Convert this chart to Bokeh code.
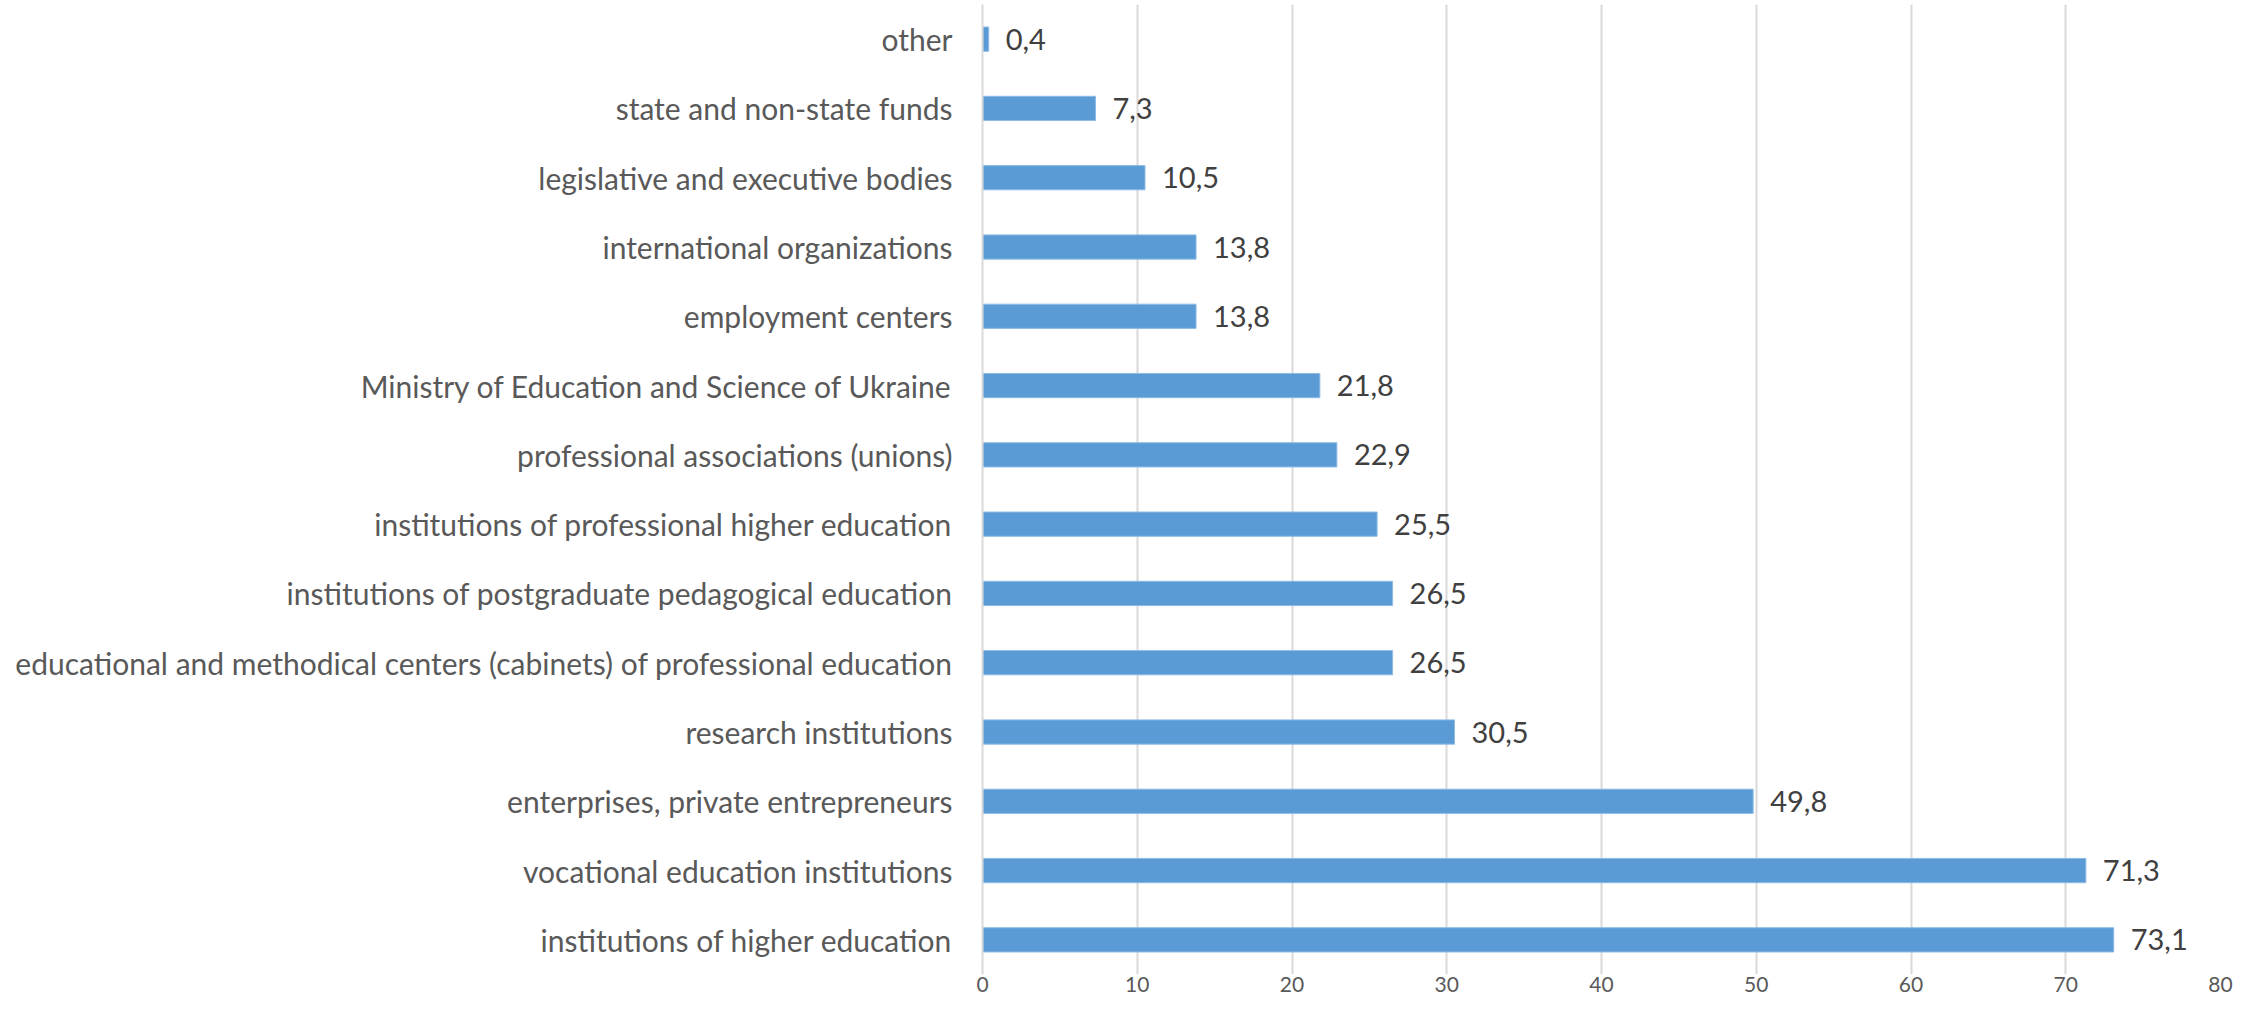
from bokeh.plotting import figure
from bokeh.models import ColumnDataSource, FactorRange, Range1d, FixedTicker
from bokeh.embed import file_html
from bokeh.resources import INLINE
from bokeh.core.properties import value

categories = [
    "other",
    "state and non-state funds",
    "legislative and executive bodies",
    "international organizations",
    "employment centers",
    "Ministry of Education and Science of Ukraine",
    "professional associations (unions)",
    "institutions of professional higher education",
    "institutions of postgraduate pedagogical education",
    "educational and methodical centers (cabinets) of professional education",
    "research institutions",
    "enterprises, private entrepreneurs",
    "vocational education institutions",
    "institutions of higher education",
]
values = [0.4, 7.3, 10.5, 13.8, 13.8, 21.8, 22.9, 25.5, 26.5, 26.5, 30.5, 49.8, 71.3, 73.1]
x_ticks = [0, 10, 20, 30, 40, 50, 60, 70, 80]

labels = [f"{v:.1f}".replace(".", ",") for v in values]
source = ColumnDataSource(dict(cat=categories, val=values, lab=labels))

FONT = "Lato"

p = figure(
    width=2240, height=1000,
    y_range=FactorRange(factors=list(reversed(categories)), range_padding=0),
    x_range=Range1d(0, 80),
    output_backend="svg", toolbar_location=None,
    min_border_left=982, min_border_right=20, min_border_top=4, min_border_bottom=26,
)
p.outline_line_color = None
p.background_fill_color = "white"

p.hbar(y="cat", right="val", left=0, height=0.35, source=source,
       fill_color="#5B9BD5", line_color="#8DBBE5", line_width=1)

p.text(x="val", y="cat", text="lab", source=source, x_offset=17,
       text_baseline="middle", text_align="left",
       text_font=value(FONT), text_font_size="29px", text_color="#404040")

p.xaxis.ticker = FixedTicker(ticks=x_ticks)
p.xaxis.axis_line_color = None
p.xaxis.major_tick_line_color = None
p.xaxis.minor_tick_line_color = None
p.xaxis.major_tick_out = 0
p.xaxis.major_tick_in = 0
p.xaxis.major_label_text_font = FONT
p.xaxis.major_label_text_font_size = "21px"
p.xaxis.major_label_text_color = "#595959"
p.xaxis.major_label_standoff = 2

p.yaxis.axis_line_color = "#D9D9D9"
p.yaxis.axis_line_width = 2
p.yaxis.major_tick_line_color = None
p.yaxis.minor_tick_line_color = None
p.yaxis.major_tick_out = 0
p.yaxis.major_tick_in = 0
p.yaxis.major_label_text_font = FONT
p.yaxis.major_label_text_font_size = "30px"
p.yaxis.major_label_text_color = "#595959"
p.yaxis.major_label_standoff = 30

p.xgrid.grid_line_color = "#D9D9D9"
p.xgrid.grid_line_width = 2
p.ygrid.grid_line_color = None

open("out.html", "w").write(file_html(p, INLINE))
